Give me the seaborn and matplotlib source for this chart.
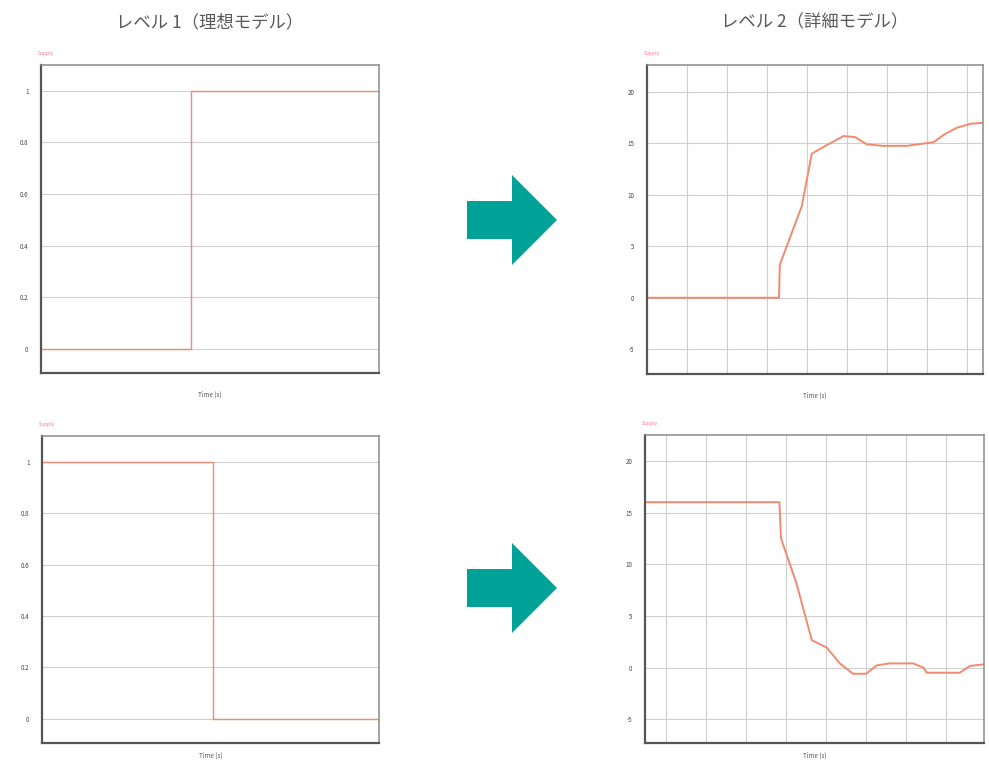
import matplotlib
matplotlib.use("Agg")
import matplotlib.pyplot as plt
from matplotlib.patches import Polygon
import seaborn as sns

sns.set_style("white")
plt.rcParams['font.family'] = ['Noto Sans CJK JP', 'DejaVu Sans']

# --- data ---
titles = ['レベル 1（理想モデル）', 'レベル 2（詳細モデル）']
series_label = 'Supply'

# ideal model (step), time axis 0..10
ideal_up_t = [0, 4.44, 4.44, 10]
ideal_up_v = [0, 0, 1, 1]
ideal_down_t = [0, 5.07, 5.07, 10]
ideal_down_v = [1, 1, 0, 0]
ideal_yticks = [0, 0.2, 0.4, 0.6, 0.8, 1]
ideal_yticklabels = ['0', '0.2', '0.4', '0.6', '0.8', '1']

# detailed model, time axis 0..8.4
detail_up_t = [0, 3.3, 3.32, 3.58, 3.87, 4.12, 4.58, 4.91, 5.2, 5.49, 5.9, 6.49, 7.16, 7.45, 7.74, 8.1, 8.45]
detail_up_v = [0, 0, 3.2, 5.9, 8.9, 14.0, 15.0, 15.7, 15.6, 14.9, 14.75, 14.75, 15.1, 15.9, 16.5, 16.9, 17.0]
detail_down_t = [0, 3.36, 3.4, 3.79, 4.17, 4.54, 4.87, 5.2, 5.53, 5.79, 6.1, 6.7, 6.96, 7.04, 7.87, 8.12, 8.45]
detail_down_v = [16, 16, 12.5, 8.1, 2.65, 1.94, 0.4, -0.6, -0.6, 0.2, 0.4, 0.4, 0, -0.5, -0.5, 0.15, 0.3]
detail_yticks = [-5, 0, 5, 10, 15, 20]
detail_yticklabels = ['-5', '0', '5', '10', '15', '20']
detail_up_vgrid = [1, 2, 3, 4, 5, 6, 7, 8]
detail_down_vgrid = [0.52, 1.52, 2.52, 3.52, 4.52, 5.52, 6.52, 7.52]

W, H = 989, 764
fig = plt.figure(figsize=(W / 100, H / 100), dpi=100)


def px_axes(x0, y0, x1, y1):
    return fig.add_axes([x0 / W, 1 - y1 / H, (x1 - x0) / W, (y1 - y0) / H])


def style_panel(ax, yticks, ylabels, ylim, xlim, vgrid=None, xpad=13):
    ax.set_xlim(*xlim)
    ax.set_ylim(*ylim)
    ax.set_yticks(yticks)
    ax.set_yticklabels(ylabels)
    ax.set_xticks([])
    ax.tick_params(axis='y', length=0, pad=9, labelsize=4.5, labelcolor='#444444')
    for y in yticks:
        ax.axhline(y, color='#d0d0d0', lw=0.8, zorder=0)
    if vgrid is not None:
        for x in vgrid:
            ax.axvline(x, color='#d0d0d0', lw=0.8, zorder=0)
    for side in ['left', 'bottom']:
        ax.spines[side].set_color('#555555')
        ax.spines[side].set_linewidth(1.6)
    for side in ['top', 'right']:
        ax.spines[side].set_color('#8a8a8a')
        ax.spines[side].set_linewidth(1.1)
    ax.set_xlabel('Time (s)', fontsize=4.5, color='#555555', labelpad=xpad)
    ax.set_ylabel('')
    ax.text(-0.01, 1.03, series_label, transform=ax.transAxes, fontsize=3.5,
            color='#f07a8a', ha='left', va='bottom')


line_red = '#f08a70'

ax1 = px_axes(41, 65, 379, 373)
sns.lineplot(x=ideal_up_t, y=ideal_up_v, ax=ax1, color=line_red, lw=1.0,
             sort=False, estimator=None)
style_panel(ax1, ideal_yticks, ideal_yticklabels, (-0.094, 1.10), (0, 10))

ax2 = px_axes(647, 65, 983, 374)
sns.lineplot(x=detail_up_t, y=detail_up_v, ax=ax2, color=line_red, lw=1.4,
             sort=False, estimator=None)
style_panel(ax2, detail_yticks, detail_yticklabels, (-7.4, 22.6), (0, 8.4), detail_up_vgrid)

ax3 = px_axes(42, 436, 379, 743)
sns.lineplot(x=ideal_down_t, y=ideal_down_v, ax=ax3, color=line_red, lw=1.0,
             sort=False, estimator=None)
style_panel(ax3, ideal_yticks, ideal_yticklabels, (-0.094, 1.10), (0, 10), xpad=6)

ax4 = px_axes(645, 435, 984, 743)
sns.lineplot(x=detail_down_t, y=detail_down_v, ax=ax4, color=line_red, lw=1.4,
             sort=False, estimator=None)
style_panel(ax4, detail_yticks, detail_yticklabels, (-7.3, 22.5), (0, 8.475),
            detail_down_vgrid, xpad=6)

# column titles
fig.text(210 / W, 1 - 22 / H, titles[0], ha='center', va='center', fontsize=12.5, color='#595959')
fig.text(815 / W, 1 - 22 / H, titles[1], ha='center', va='center', fontsize=12.5, color='#595959')


# teal arrows between columns
def arrow(cy):
    pts = [(467, cy - 19), (512, cy - 19), (512, cy - 45), (557, cy),
           (512, cy + 45), (512, cy + 19), (467, cy + 19)]
    pts = [(x / W, 1 - y / H) for x, y in pts]
    fig.patches.append(Polygon(pts, closed=True, transform=fig.transFigure,
                               facecolor='#00a297', edgecolor='none'))


arrow(220)
arrow(588)

plt.savefig('out.png', dpi=100)
